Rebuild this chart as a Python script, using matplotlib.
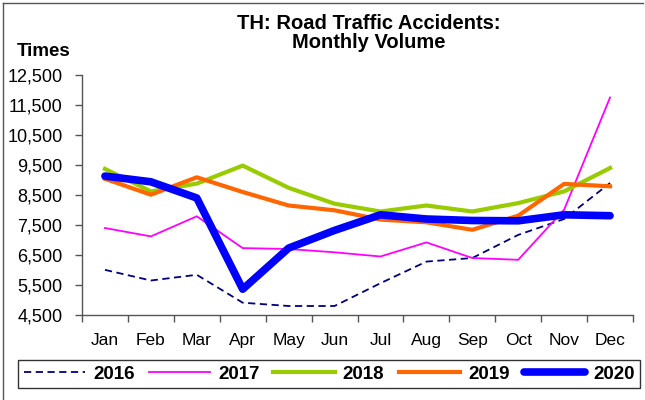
import matplotlib
matplotlib.use('Agg')
import matplotlib.pyplot as plt
from matplotlib.lines import Line2D
from matplotlib.ticker import FuncFormatter, FixedLocator

months = ['Jan', 'Feb', 'Mar', 'Apr', 'May', 'Jun', 'Jul', 'Aug', 'Sep', 'Oct', 'Nov', 'Dec']

y2016 = [6005, 5650, 5840, 4910, 4800, 4800, 5560, 6280, 6400, 7170, 7700, 8900]
y2017 = [7400, 7120, 7790, 6730, 6700, 6590, 6450, 6920, 6400, 6340, 8010, 11750]
y2018 = [9370, 8620, 8880, 9480, 8740, 8210, 7950, 8150, 7950, 8230, 8620, 9400]
y2019 = [9040, 8510, 9090, 8600, 8150, 7990, 7680, 7590, 7340, 7810, 8870, 8790]
y2020 = [9130, 8940, 8400, 5360, 6730, 7320, 7840, 7700, 7650, 7640, 7840, 7810]

plt.rcParams['font.family'] = ['Liberation Sans', 'DejaVu Sans']

fig = plt.figure(figsize=(6.45, 4.0), dpi=100)
ax = fig.add_axes([82 / 645, 1 - 315 / 400, (633 - 82) / 645, 240 / 400])

x = list(range(len(months)))
ax.plot(x, y2016, color='#000080', lw=1.3, ls=(0, (4, 2.5)), label='2016')
ax.plot(x, y2017, color='#ff00ff', lw=1.3, label='2017')
ax.plot(x, y2018, color='#99cc00', lw=3, label='2018')
ax.plot(x, y2019, color='#ff6600', lw=3, label='2019')
ax.plot(x, y2020, color='#0000ff', lw=5.5, label='2020', solid_capstyle='round')

ax.set_xlim(-0.5, 11.5)
ax.set_ylim(4500, 12500)
ax.set_yticks(range(4500, 12501, 1000))
ax.yaxis.set_major_formatter(FuncFormatter(lambda v, p: f'{int(v):,}'))
ax.set_xticks(x)
ax.set_xticklabels(months)
ax.xaxis.set_minor_locator(FixedLocator([i - 0.5 for i in range(13)]))
ax.tick_params(axis='x', which='major', length=0, pad=13, labelsize=12.5)
ax.tick_params(axis='x', which='minor', length=5, width=1, direction='out', color='#555555')
ax.tick_params(axis='y', length=5, width=1, direction='out', labelsize=13, color='#555555', pad=9)

for s in ['top', 'right']:
    ax.spines[s].set_visible(False)
for s in ['left', 'bottom']:
    ax.spines[s].set_color('#555555')
    ax.spines[s].set_linewidth(1)

fig.text(369 / 645, 1 - 33 / 400, 'TH: Road Traffic Accidents:\nMonthly Volume',
         ha='center', va='center', fontsize=14.5, fontweight='bold', linespacing=0.95)
fig.text(17 / 645, 1 - 51 / 400, 'Times', ha='left', va='center', fontsize=13.5, fontweight='bold')

leg = fig.legend(loc='center', bbox_to_anchor=(329 / 645, 1 - 374 / 400), ncol=5,
                 frameon=True, fancybox=False, edgecolor='black',
                 prop={'weight': 'bold', 'size': 13.5}, handlelength=3.3,
                 columnspacing=0.75, handletextpad=0.4, borderpad=0.3)
leg.get_frame().set_linewidth(1)

# outer border of the picture
fig.add_artist(Line2D([3 / 645, 3 / 645], [0, 1 - 3 / 400], transform=fig.transFigure, color='#555555', lw=1))
fig.add_artist(Line2D([3 / 645, 643 / 645], [1 - 3 / 400, 1 - 3 / 400], transform=fig.transFigure, color='#555555', lw=1))

fig.savefig('out.png', dpi=100)
